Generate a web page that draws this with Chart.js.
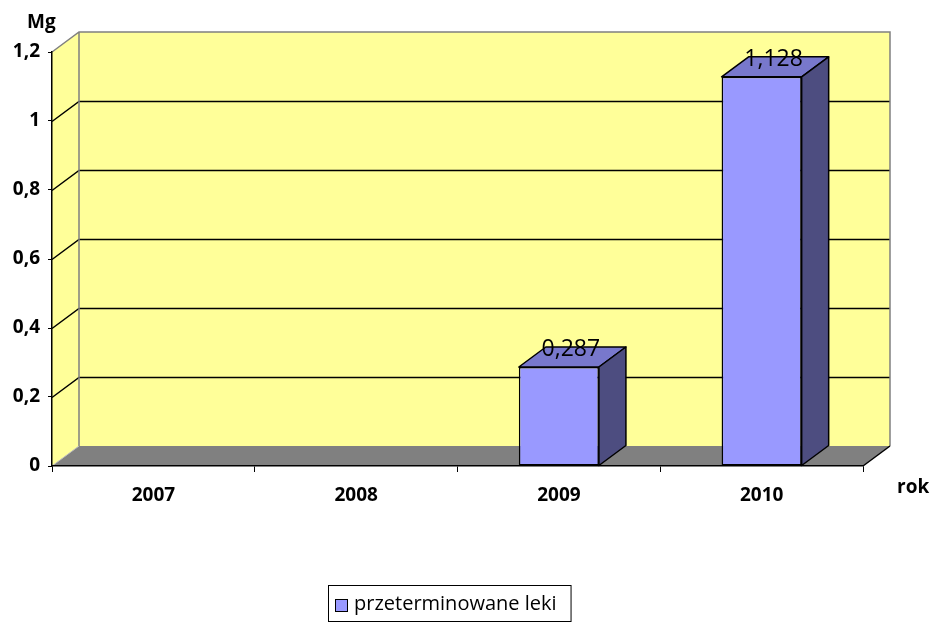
<!DOCTYPE html>
<html>
<head>
<meta charset="utf-8">
<script src="https://cdn.jsdelivr.net/npm/chart.js@4.4.1/dist/chart.umd.min.js"></script>
<style>
  html, body { margin: 0; padding: 0; background: #fff; }
  #wrap { width: 931px; height: 624px; }
</style>
</head>
<body>
<div id="wrap"><canvas id="chart" width="931" height="624"></canvas></div>
<script>
// chart data
const years = ['2007', '2008', '2009', '2010'];
const expiredMeds = [null, null, 0.287, 1.128];
const seriesLabel = 'przeterminowane leki';
const yTicks = [0, 0.2, 0.4, 0.6, 0.8, 1, 1.2];
const yTitle = 'Mg';
const xTitle = 'rok';

const FONT = "'Open Sans', sans-serif";
const DX = 27;   // 3d depth, horizontal
const DY = 20;   // 3d depth, vertical
const WALL = '#FFFF99';
const FLOOR = '#808080';
const BAR_FRONT = '#9999FF';
const BAR_TOP = '#7878CC';
const BAR_SIDE = '#4D4D80';

const fmt = v => String(Math.round(v * 1000) / 1000).replace('.', ',');

function poly(ctx, pts, fill, stroke, lw) {
  ctx.beginPath();
  ctx.moveTo(pts[0][0], pts[0][1]);
  for (let i = 1; i < pts.length; i++) ctx.lineTo(pts[i][0], pts[i][1]);
  ctx.closePath();
  if (fill) { ctx.fillStyle = fill; ctx.fill(); }
  if (stroke) { ctx.strokeStyle = stroke; ctx.lineWidth = lw || 1; ctx.stroke(); }
}

// walls, floor and gridlines behind the bars
const wallsPlugin = {
  id: 'walls',
  beforeDraw(chart) {
    const ctx = chart.ctx;
    const xs = chart.scales.x, ys = chart.scales.y;
    const L = xs.left, R = xs.right;
    const B = ys.getPixelForValue(ys.min), T = ys.getPixelForValue(ys.max);
    ctx.save();
    // side wall
    poly(ctx, [[L, B], [L, T], [L + DX, T - DY], [L + DX, B - DY]], WALL);
    // back wall
    poly(ctx, [[L + DX, T - DY], [R + DX, T - DY], [R + DX, B - DY], [L + DX, B - DY]], WALL);
    // gridlines
    ctx.lineWidth = 1.5;
    ys.ticks.forEach(t => {
      if (t.value <= ys.min || t.value >= ys.max) return;
      const py = Math.round(ys.getPixelForValue(t.value)) + 0.5;
      ctx.strokeStyle = '#000';
      ctx.beginPath();
      ctx.moveTo(L, py);
      ctx.lineTo(L + DX, py - DY);
      ctx.lineTo(R + DX, py - DY);
      ctx.stroke();
    });
    // wall outlines
    ctx.strokeStyle = FLOOR;
    ctx.lineWidth = 1.5;
    ctx.beginPath();
    ctx.moveTo(L, T);
    ctx.lineTo(L + DX, T - DY);
    ctx.lineTo(R + DX, T - DY);
    ctx.lineTo(R + DX, B - DY);
    ctx.moveTo(L + DX, T - DY);
    ctx.lineTo(L + DX, B - DY);
    ctx.stroke();
    // floor
    poly(ctx, [[L, B], [R, B], [R + DX, B - DY], [L + DX, B - DY]], FLOOR);
    ctx.strokeStyle = '#BBBBBB';
    ctx.lineWidth = 1;
    ctx.beginPath();
    ctx.moveTo(L, B);
    ctx.lineTo(L + DX, B - DY);
    ctx.stroke();
    ctx.strokeStyle = '#000';
    ctx.lineWidth = 1.5;
    ctx.beginPath();
    ctx.moveTo(R, B);
    ctx.lineTo(R + DX, B - DY);
    ctx.stroke();
    ctx.restore();
  }
};

// top and side faces of the bars, value labels, titles, legend
const barsPlugin = {
  id: 'bars3d',
  afterDatasetsDraw(chart) {
    const ctx = chart.ctx;
    const meta = chart.getDatasetMeta(0);
    ctx.save();
    ctx.lineJoin = 'round';
    meta.data.forEach((bar, i) => {
      const v = expiredMeds[i];
      if (v == null) return;
      const p = bar.getProps(['x', 'y', 'base', 'width'], true);
      const l = p.x - p.width / 2, r = p.x + p.width / 2;
      poly(ctx, [[l, p.y], [r, p.y], [r + DX, p.y - DY], [l + DX, p.y - DY]], BAR_TOP, '#000', 1.5);
      poly(ctx, [[r, p.y], [r + DX, p.y - DY], [r + DX, p.base - DY], [r, p.base]], BAR_SIDE, '#000', 1.5);
      ctx.fillStyle = '#000';
      ctx.font = '23px ' + FONT;
      ctx.textAlign = 'center';
      ctx.textBaseline = 'alphabetic';
      ctx.fillText(fmt(v), p.x + 12, p.y - 11);
    });
    ctx.restore();
  },
  afterDraw(chart) {
    const ctx = chart.ctx;
    const xs = chart.scales.x, ys = chart.scales.y;
    ctx.save();
    ctx.fillStyle = '#000';
    ctx.font = 'bold 19px ' + FONT;
    ctx.textBaseline = 'alphabetic';
    ctx.textAlign = 'left';
    ctx.fillText(yTitle, 27, ys.top - 24);
    ctx.fillText(xTitle, xs.right + 34, ys.bottom + 27);

    // legend
    ctx.font = '20px ' + FONT;
    const tw = ctx.measureText(seriesLabel).width;
    const w = 26 + tw + 14;
    const h = 36;
    const cx = 449, top = 585;
    const left = Math.round(cx - w / 2);
    ctx.strokeStyle = '#000';
    ctx.lineWidth = 1;
    ctx.strokeRect(left + 0.5, top + 0.5, w, h);
    ctx.fillStyle = BAR_FRONT;
    ctx.fillRect(left + 7, top + 14, 13, 13);
    ctx.strokeRect(left + 7.5, top + 14.5, 12, 12);
    ctx.fillStyle = '#000';
    ctx.textBaseline = 'middle';
    ctx.fillText(seriesLabel, left + 26, top + h / 2 + 1);
    ctx.restore();
  }
};

new Chart(document.getElementById('chart'), {
  type: 'bar',
  data: {
    labels: years,
    datasets: [{
      label: seriesLabel,
      data: expiredMeds,
      backgroundColor: BAR_FRONT,
      borderColor: '#000',
      borderWidth: 1.5,
      borderSkipped: false,
      categoryPercentage: 1,
      barPercentage: 0.395
    }]
  },
  options: {
    responsive: false,
    animation: false,
    layout: { padding: { top: 52, right: 68, bottom: 118, left: 0 } },
    plugins: {
      legend: { display: false },
      tooltip: { enabled: false }
    },
    scales: {
      x: {
        afterFit: s => { s.height = 40; },
        grid: { display: true, drawOnChartArea: false, offset: true, color: '#000', lineWidth: 1, tickLength: 6 },
        border: { display: true, color: '#000', width: 1.5 },
        ticks: { color: '#000', padding: 12, font: { family: FONT, size: 19, weight: 'bold' } }
      },
      y: {
        min: 0,
        max: 1.2,
        afterFit: s => { s.width = 52; },
        afterBuildTicks: s => { s.ticks = yTicks.map(v => ({ value: v })); },
        grid: { display: true, drawOnChartArea: false, color: '#000', lineWidth: 1, tickLength: 4 },
        border: { display: true, color: '#000', width: 1.5 },
        ticks: { color: '#000', padding: 8, font: { family: FONT, size: 19, weight: 'bold' }, callback: v => fmt(v) }
      }
    }
  },
  plugins: [wallsPlugin, barsPlugin]
});
</script>
</body>
</html>
